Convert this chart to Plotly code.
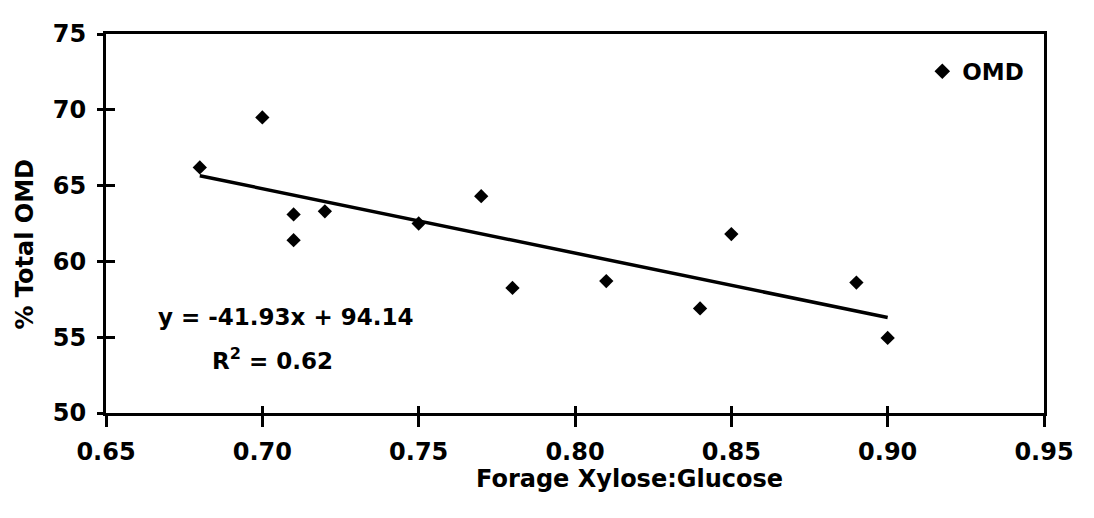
import plotly.graph_objects as go

# Data
ratio = [0.68, 0.70, 0.71, 0.71, 0.72, 0.75, 0.77, 0.78, 0.81, 0.84, 0.85, 0.89, 0.90]
omd = [66.2, 69.5, 63.1, 61.4, 63.3, 62.5, 64.3, 58.25, 58.7, 56.9, 61.8, 58.6, 54.95]
trend_x = [0.68, 0.90]
trend_y = [65.65, 56.3]
x_ticks = [0.65, 0.70, 0.75, 0.80, 0.85, 0.90, 0.95]
x_tick_text = ["0.65", "0.70", "0.75", "0.80", "0.85", "0.90", "0.95"]
y_ticks = [50, 55, 60, 65, 70, 75]
eq_text = "y = -41.93x + 94.14"
r2_text = "R<sup>2</sup> = 0.62"

FONT = "DejaVu Sans"
OFF = 8  # default page body margin
W, H = 1094 - 2 * OFF, 518 - 2 * OFF
# plot area in page pixels
PL, PR, PT, PB = 106, 1054, 28, 413
L = PL - OFF
R = OFF + W - PR
T = PT - OFF
B = OFF + H - PB
pw, ph = PR - PL, PB - PT

def px(xp):
    return (xp - PL) / pw

def py(yp):
    return (PB - yp) / ph

fig = go.Figure()
fig.add_trace(go.Scatter(
    x=ratio, y=omd, mode="markers", name="OMD",
    marker=dict(symbol="diamond", size=11, color="black"),
))
fig.add_trace(go.Scatter(
    x=trend_x, y=trend_y, mode="lines", showlegend=False,
    line=dict(color="black", width=3.5), hoverinfo="skip",
))
# invisible trace on overlay axes for inner ticks
fig.add_trace(go.Scatter(x=[ratio[0]], y=[omd[0]], xaxis="x2", yaxis="y2",
                         mode="markers", marker=dict(opacity=0), showlegend=False,
                         hoverinfo="skip"))

tickfont = dict(family=FONT, size=24, color="black", weight="bold")
fig.update_layout(
    width=W, height=H,
    margin=dict(l=L, r=R, t=T, b=B),
    paper_bgcolor="white", plot_bgcolor="white",
    showlegend=True,
    legend=dict(x=px(931), y=py(44), xanchor="left", yanchor="top",
                font=dict(family=FONT, size=23, color="black", weight="bold"),
                bgcolor="rgba(0,0,0,0)", itemsizing="constant",
                tracegroupgap=0),
    xaxis=dict(range=[0.65, 0.95], tickvals=x_ticks, ticktext=x_tick_text,
               showgrid=False, zeroline=False, showline=True, linecolor="black",
               linewidth=3, mirror=True, ticks="outside", ticklen=11, tickwidth=3,
               tickcolor="black", tickfont=tickfont, ticklabelstandoff=4),
    yaxis=dict(range=[50, 75], tickvals=y_ticks,
               showgrid=False, zeroline=False, showline=True, linecolor="black",
               linewidth=3, mirror=True, ticks="outside", ticklen=6, tickwidth=3,
               tickcolor="black", tickfont=tickfont, ticklabelstandoff=6),
    xaxis2=dict(range=[0.65, 0.95], tickvals=x_ticks, overlaying="x",
                showgrid=False, zeroline=False, showline=False, showticklabels=False,
                ticks="inside", ticklen=7, tickwidth=3, tickcolor="black"),
    yaxis2=dict(range=[50, 75], tickvals=y_ticks, overlaying="y",
                showgrid=False, zeroline=False, showline=False, showticklabels=False,
                ticks="inside", ticklen=9, tickwidth=3, tickcolor="black"),
    annotations=[
        dict(text="% Total OMD", xref="paper", yref="paper", x=px(24), y=py(241),
             xanchor="center", yanchor="middle", textangle=-90, showarrow=False,
             font=dict(family=FONT, size=24, color="black", weight="bold")),
        dict(text="Forage Xylose:Glucose", xref="paper", yref="paper", x=px(635), y=py(480),
             xanchor="center", yanchor="middle", showarrow=False,
             font=dict(family=FONT, size=24, color="black", weight="bold")),
        dict(text=eq_text, xref="paper", yref="paper", x=px(157), y=py(315),
             xanchor="left", yanchor="middle", showarrow=False,
             font=dict(family=FONT, size=23, color="black", weight="bold")),
        dict(text=r2_text, xref="paper", yref="paper", x=px(211), y=py(358),
             xanchor="left", yanchor="middle", showarrow=False,
             font=dict(family=FONT, size=23, color="black", weight="bold")),
    ],
)
fig.write_html("out.html")
